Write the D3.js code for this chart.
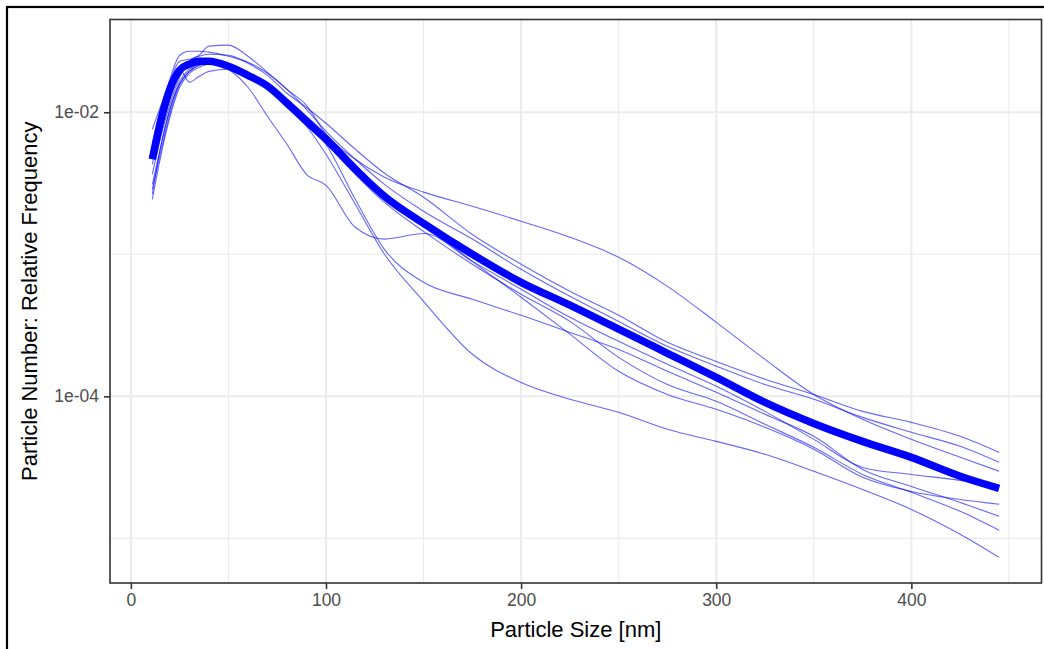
<!DOCTYPE html>
<html>
<head>
<meta charset="utf-8">
<script src="https://cdn.jsdelivr.net/npm/d3@7"></script>
<style>
  html, body { margin: 0; padding: 0; background: #fff; }
  svg { display: block; }
  text { font-family: "Liberation Sans", Arial, sans-serif; }
</style>
</head>
<body>
<svg id="chart" width="1044" height="649"></svg>
<script>
// Particle sizes (nm) at which each distribution is sampled
const sizes = [11, 15, 20, 25, 30, 35, 40, 50, 60, 70, 80, 90, 100, 115, 130, 150, 175, 200, 225, 250, 275, 300, 325, 350, 375, 400, 425, 445];

// Averaged relative frequency (thick curve)
const meanFreq = [4.67e-3, 8.37e-3, 1.45e-2, 1.98e-2, 2.18e-2, 2.29e-2, 2.29e-2, 2.11e-2, 1.82e-2, 1.53e-2, 1.16e-2, 8.65e-3, 6.45e-3, 3.97e-3, 2.56e-3, 1.65e-3, 1.00e-3, 6.35e-4, 4.38e-4, 2.97e-4, 2.01e-4, 1.36e-4, 9.07e-5, 6.45e-5, 4.82e-5, 3.72e-5, 2.74e-5, 2.25e-5];

// Individual measurements (thin curves)
const run1 = [3.66e-3, 6.45e-3, 1.14e-2, 1.76e-2, 2.29e-2, 2.52e-2, 2.92e-2, 2.97e-2, 2.48e-2, 1.91e-2, 1.45e-2, 1.12e-2, 7.00e-3, 4.67e-3, 3.49e-3, 2.74e-3, 2.18e-3, 1.71e-3, 1.32e-3, 9.53e-4, 5.95e-4, 3.32e-4, 1.82e-4, 1.03e-4, 6.89e-5, 4.98e-5, 3.72e-5, 2.97e-5];
const run2 = [7.59e-3, 1.08e-2, 1.65e-2, 2.29e-2, 2.36e-2, 2.48e-2, 2.56e-2, 2.52e-2, 2.21e-2, 1.82e-2, 1.36e-2, 1.08e-2, 8.37e-3, 5.49e-3, 3.72e-3, 2.52e-3, 1.38e-3, 8.51e-4, 5.49e-4, 3.72e-4, 2.40e-4, 1.76e-4, 1.32e-4, 1.03e-4, 7.84e-5, 6.56e-5, 5.23e-5, 4.03e-5];
const run3 = [5.95e-3, 1.02e-2, 1.71e-2, 2.52e-2, 2.69e-2, 2.69e-2, 2.65e-2, 2.48e-2, 2.25e-2, 1.88e-2, 1.45e-2, 1.05e-2, 7.35e-3, 4.67e-3, 3.11e-3, 2.01e-3, 1.28e-3, 7.84e-4, 5.06e-4, 3.37e-4, 2.25e-4, 1.63e-4, 1.21e-4, 9.53e-5, 7.11e-5, 5.58e-5, 4.45e-5, 3.43e-5];
const run4 = [3.11e-3, 5.49e-3, 1.05e-2, 1.65e-2, 2.01e-2, 2.21e-2, 2.29e-2, 2.01e-2, 1.50e-2, 9.38e-3, 5.95e-3, 3.66e-3, 3.06e-3, 1.55e-3, 1.28e-3, 1.40e-3, 8.92e-4, 5.67e-4, 3.60e-4, 2.44e-4, 1.68e-4, 1.18e-4, 7.84e-5, 4.98e-5, 3.16e-5, 2.82e-5, 2.56e-5, 2.29e-5];
const run5 = [2.87e-3, 5.06e-3, 9.68e-3, 1.58e-2, 1.94e-2, 2.14e-2, 2.21e-2, 2.07e-2, 1.76e-2, 1.45e-2, 1.12e-2, 7.97e-3, 5.06e-3, 2.25e-3, 1.00e-3, 4.67e-4, 1.98e-4, 1.25e-4, 9.53e-5, 7.72e-5, 5.86e-5, 4.82e-5, 3.91e-5, 2.97e-5, 2.21e-5, 1.60e-5, 1.07e-5, 7.35e-6];
const run6 = [2.44e-3, 4.67e-3, 9.23e-3, 1.50e-2, 1.88e-2, 2.07e-2, 2.18e-2, 2.07e-2, 1.85e-2, 1.55e-2, 1.20e-2, 8.92e-3, 5.95e-3, 2.44e-3, 1.08e-3, 6.35e-4, 4.82e-4, 3.72e-4, 2.82e-4, 2.14e-4, 1.50e-4, 1.07e-4, 7.47e-5, 5.23e-5, 3.06e-5, 2.32e-5, 1.79e-5, 1.43e-5];
const run7 = [2.65e-3, 5.49e-3, 1.05e-2, 1.58e-2, 1.94e-2, 2.14e-2, 2.21e-2, 2.14e-2, 1.88e-2, 1.55e-2, 1.18e-2, 8.23e-3, 6.15e-3, 3.66e-3, 2.32e-3, 1.45e-3, 8.51e-4, 5.23e-4, 3.37e-4, 1.88e-4, 1.21e-4, 9.23e-5, 6.35e-5, 4.38e-5, 2.82e-5, 2.11e-5, 1.55e-5, 1.14e-5];
const run8 = [4.30e-3, 7.84e-3, 1.50e-2, 2.01e-2, 1.63e-2, 1.79e-2, 1.94e-2, 2.01e-2, 1.82e-2, 1.55e-2, 1.23e-2, 9.38e-3, 7.00e-3, 4.30e-3, 2.65e-3, 1.63e-3, 8.92e-4, 4.98e-4, 2.74e-4, 1.50e-4, 1.03e-4, 8.10e-5, 6.05e-5, 4.24e-5, 2.69e-5, 2.14e-5, 1.88e-5, 1.74e-5];

// Axis breaks and labels
const xBreaks = [0, 100, 200, 300, 400];
const xLabels = ["0", "100", "200", "300", "400"];
const xMinor = [50, 150, 250, 350, 450];
const yBreaks = [1e-2, 1e-4];
const yLabels = ["1e-02", "1e-04"];
const yMinor = [1e-3, 1e-5];

const runs = [run1, run2, run3, run4, run5, run6, run7, run8];

const svg = d3.select("#chart");
const panel = { left: 110, top: 19.5, right: 1041.5, bottom: 583 };

// Outer frame (left and top edges visible)
svg.append("rect")
  .attr("x", 7).attr("y", 7)
  .attr("width", 1060).attr("height", 660)
  .attr("fill", "none").attr("stroke", "#000").attr("stroke-width", 2.2);

// 5% expansion on both axes (log space for y)
const allVals = runs.flat().concat(meanFreq);
const xExt = d3.extent(sizes);
const xPad = (xExt[1] - xExt[0]) * 0.05;
const lyExt = d3.extent(allVals).map(Math.log10);
const lyPad = (lyExt[1] - lyExt[0]) * 0.05;

const x = d3.scaleLinear()
  .domain([xExt[0] - xPad, xExt[1] + xPad])
  .range([panel.left, panel.right]);
const y = d3.scaleLog()
  .domain([Math.pow(10, lyExt[0] - lyPad), Math.pow(10, lyExt[1] + lyPad)])
  .range([panel.bottom, panel.top]);

const grid = svg.append("g");
// minor grid
grid.selectAll("line.xmin").data(xMinor).join("line")
  .attr("x1", d => x(d)).attr("x2", d => x(d))
  .attr("y1", panel.top).attr("y2", panel.bottom)
  .attr("stroke", "#EBEBEB").attr("stroke-width", 1.1);
grid.selectAll("line.ymin").data(yMinor).join("line")
  .attr("y1", d => y(d)).attr("y2", d => y(d))
  .attr("x1", panel.left).attr("x2", panel.right)
  .attr("stroke", "#EBEBEB").attr("stroke-width", 1.1);
// major grid
grid.selectAll("line.xmaj").data(xBreaks).join("line")
  .attr("x1", d => x(d)).attr("x2", d => x(d))
  .attr("y1", panel.top).attr("y2", panel.bottom)
  .attr("stroke", "#EBEBEB").attr("stroke-width", 2);
grid.selectAll("line.ymaj").data(yBreaks).join("line")
  .attr("y1", d => y(d)).attr("y2", d => y(d))
  .attr("x1", panel.left).attr("x2", panel.right)
  .attr("stroke", "#EBEBEB").attr("stroke-width", 2);

// clip
svg.append("clipPath").attr("id", "clip")
  .append("rect")
  .attr("x", panel.left).attr("y", panel.top)
  .attr("width", panel.right - panel.left).attr("height", panel.bottom - panel.top);

const plot = svg.append("g").attr("clip-path", "url(#clip)");

const line = d3.line()
  .x((d, i) => x(sizes[i]))
  .y(d => y(d))
  .curve(d3.curveMonotoneX);

plot.selectAll("path.run").data(runs).join("path")
  .attr("class", "run")
  .attr("d", line)
  .attr("fill", "none")
  .attr("stroke", "#0000FF")
  .attr("stroke-opacity", 0.6)
  .attr("stroke-width", 1.1);

plot.append("path")
  .datum(meanFreq)
  .attr("d", line)
  .attr("fill", "none")
  .attr("stroke", "#0000FF")
  .attr("stroke-width", 7.5)
  .attr("stroke-linecap", "butt")
  .attr("stroke-linejoin", "round");

// panel border
svg.append("rect")
  .attr("x", panel.left).attr("y", panel.top)
  .attr("width", panel.right - panel.left).attr("height", panel.bottom - panel.top)
  .attr("fill", "none").attr("stroke", "#333333").attr("stroke-width", 1.6);

// x axis
const xAxis = d3.axisBottom(x)
  .tickValues(xBreaks)
  .tickFormat((d, i) => xLabels[i])
  .tickSize(6).tickPadding(5);
const gx = svg.append("g").attr("transform", `translate(0,${panel.bottom})`).call(xAxis);
gx.select(".domain").remove();
gx.selectAll(".tick line").attr("stroke", "#333333").attr("stroke-width", 1.6);
gx.selectAll(".tick text")
  .attr("fill", "#4D4D4D")
  .style("font-size", "17.5px")
  .style("font-family", "'Liberation Sans', Arial, sans-serif");

// y axis
const yAxis = d3.axisLeft(y)
  .tickValues(yBreaks)
  .tickFormat((d, i) => yLabels[i])
  .tickSize(6).tickPadding(5);
const gy = svg.append("g").attr("transform", `translate(${panel.left},0)`).call(yAxis);
gy.select(".domain").remove();
gy.selectAll(".tick line").attr("stroke", "#333333").attr("stroke-width", 1.6);
gy.selectAll(".tick text")
  .attr("fill", "#4D4D4D")
  .style("font-size", "17.5px")
  .style("font-family", "'Liberation Sans', Arial, sans-serif");

// axis titles
svg.append("text")
  .attr("x", (panel.left + panel.right) / 2)
  .attr("y", 637)
  .attr("text-anchor", "middle")
  .attr("fill", "#000")
  .style("font-size", "22px")
  .text("Particle Size [nm]");

svg.append("text")
  .attr("transform", `translate(37,${(panel.top + panel.bottom) / 2}) rotate(-90)`)
  .attr("text-anchor", "middle")
  .attr("fill", "#000")
  .style("font-size", "22px")
  .text("Particle Number: Relative Frequency");
</script>
</body>
</html>
